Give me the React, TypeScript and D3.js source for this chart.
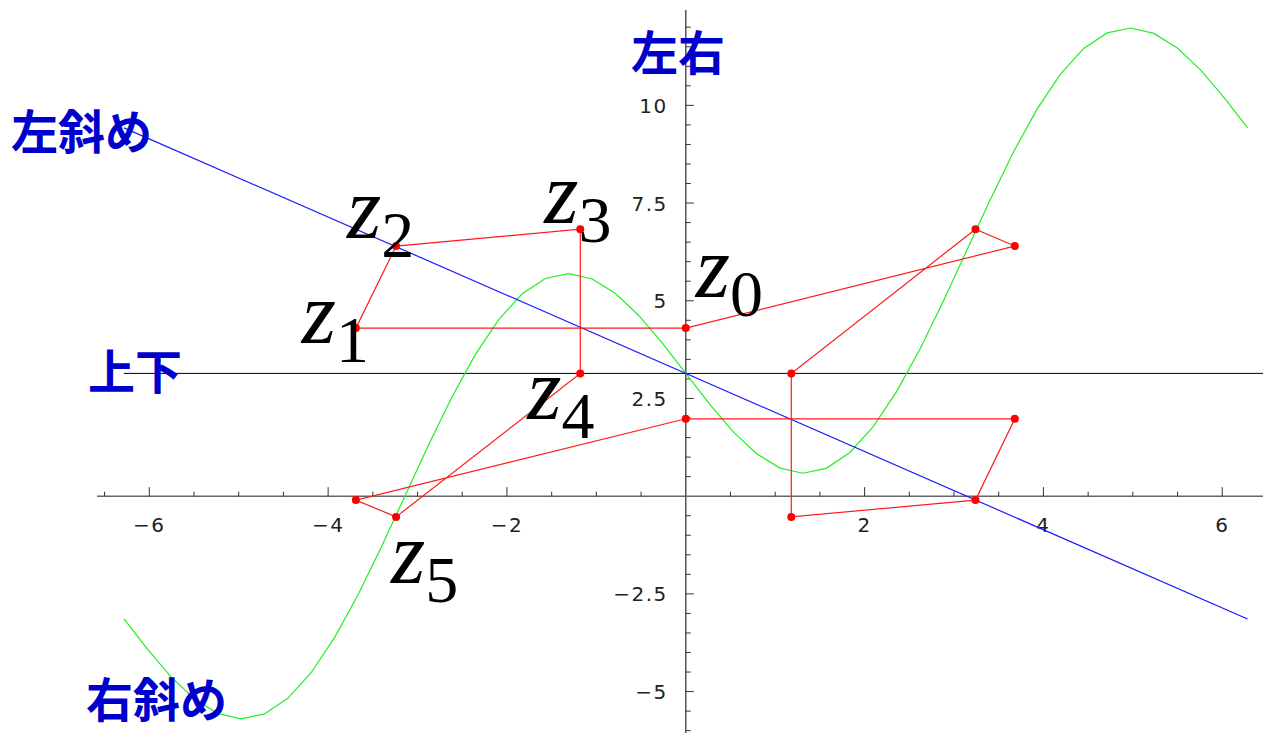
import React from "react";
import * as d3 from "d3";

// Plot window
const X_DOMAIN = [-6.585, 6.59];
const Y_DOMAIN = [-6.06, 12.44];

// Green curve samples
const greenX = [
  -6.2832, -6.0214, -5.7596, -5.4978, -5.236, -4.9742, -4.7124, -4.4506, -4.1888, -3.927,
  -3.6652, -3.4034, -3.1416, -2.8798, -2.618, -2.3562, -2.0944, -1.8326, -1.5708, -1.309,
  -1.0472, -0.7854, -0.5236, -0.2618, 0, 0.2618, 0.5236, 0.7854, 1.0472, 1.309,
  1.5708, 1.8326, 2.0944, 2.3562, 2.618, 2.8798, 3.1416, 3.4034, 3.6652, 3.927,
  4.1888, 4.4506, 4.7124, 4.9742, 5.236, 5.4978, 5.7596, 6.0214, 6.2832,
];
const greenY = [
  -3.142, -3.915, -4.618, -5.185, -5.558, -5.696, -5.571, -5.173, -4.511, -3.614,
  -2.524, -1.297, 0, 1.297, 2.524, 3.614, 4.511, 5.173, 5.571, 5.696,
  5.558, 5.185, 4.618, 3.915, 3.142, 2.368, 1.665, 1.099, 0.725, 0.587,
  0.712, 1.111, 1.772, 2.669, 3.76, 4.986, 6.283, 7.58, 8.807, 9.897,
  10.794, 11.456, 11.854, 11.979, 11.842, 11.468, 10.901, 10.198, 9.425,
];

// Blue diagonal
const blueX = [-6.2832, 6.2832];
const blueY = [9.425, -3.142];

// Horizontal reference line
const hLineX = [-6.2832, 6.59];
const hLineY = [3.1416, 3.1416];

// Red closed path through the points
const redX = [0, -3.69, -3.24, -1.18, -1.18, -3.24, -3.69, 0, 3.68, 3.24, 1.18, 1.18, 3.24, 3.68, 0];
const redY = [4.3, 4.3, 6.4, 6.83, 3.14, -0.53, -0.1, 1.98, 1.98, -0.1, -0.53, 3.14, 6.83, 6.4, 4.3];

// Point labels z0..z5 (index into the red path)
const zNames = ["0", "1", "2", "3", "4", "5"];
const zOffsets: [number, number][] = [
  [10, -31],
  [-54, 15],
  [-49, -8],
  [-36, -6],
  [-53, 46],
  [-5, 66],
];

// Tick values
const xMajorTicks = [-6, -4, -2, 2, 4, 6];
const xTickLabels = ["\u22126", "\u22124", "\u22122", "2", "4", "6"];
const yMajorTicks = [-5, -2.5, 2.5, 5, 7.5, 10];
const yTickLabels = ["\u22125", "\u22122.5", "2.5", "5", "7.5", "10"];

// Direction captions
const captions = ["左斜め", "左右", "上下", "右斜め"];
const captionPos: [number, number][] = [
  [11, 149],
  [631, 70],
  [88, 389],
  [86, 717],
];

const W = 1263;
const H = 733;

export default function App() {
  const x = d3.scaleLinear().domain(X_DOMAIN).range([97, 1275]);
  const y = d3.scaleLinear().domain(Y_DOMAIN).range([733, 10]);

  const line = d3
    .line<[number, number]>()
    .x((d) => x(d[0]))
    .y((d) => y(d[1]));

  const zip = (a: number[], b: number[]) => a.map((v, i) => [v, b[i]] as [number, number]);

  const x0 = x(0);
  const y0 = y(0);

  const xMinor = d3.range(-6.5, 6.51, 0.5).filter((v) => Math.abs(v % 2) > 1e-6 && Math.abs(v) > 1e-6);
  const yMinor = d3.range(-6, 12.01, 0.5).filter((v) => Math.abs(v % 2.5) > 1e-6 && Math.abs(v) > 1e-6);

  const tickFont = { fontFamily: "DejaVu Sans", fontSize: 20, letterSpacing: 1.5 };

  return (
    <svg
      width={W}
      height={H}
      style={{ position: "absolute", left: 0, top: 0, background: "#fff" }}
    >
      <rect width={W} height={H} fill="#fff" />

      {/* x axis */}
      <line x1={x(X_DOMAIN[0])} x2={x(X_DOMAIN[1])} y1={y0} y2={y0} stroke="#666" strokeWidth={1.5} />
      {xMinor.map((v) => (
        <line key={"xm" + v} x1={x(v)} x2={x(v)} y1={y0} y2={y0 - 4.5} stroke="#333" strokeWidth={1} />
      ))}
      {xMajorTicks.map((v, i) => (
        <g key={"xM" + v}>
          <line x1={x(v)} x2={x(v)} y1={y0} y2={y0 - 9} stroke="#333" strokeWidth={1} />
          <text x={x(v)} y={y0 + 36} textAnchor="middle" fill="#222" {...tickFont}>
            {xTickLabels[i]}
          </text>
        </g>
      ))}

      {/* y axis */}
      <line x1={x0} x2={x0} y1={y(Y_DOMAIN[1])} y2={y(Y_DOMAIN[0])} stroke="#555" strokeWidth={1.5} />
      {yMinor.map((v) => (
        <line key={"ym" + v} x1={x0} x2={x0 + 5} y1={y(v)} y2={y(v)} stroke="#333" strokeWidth={1} />
      ))}
      {yMajorTicks.map((v, i) => (
        <g key={"yM" + v}>
          <line x1={x0} x2={x0 + 8} y1={y(v)} y2={y(v)} stroke="#333" strokeWidth={1} />
          <text x={x0 - 18} y={y(v) + 7.5} textAnchor="end" fill="#222" {...tickFont}>
            {yTickLabels[i]}
          </text>
        </g>
      ))}

      {/* horizontal line */}
      <path d={line(zip(hLineX, hLineY)) || ""} fill="none" stroke="#000" strokeWidth={1} />

      {/* green curve */}
      <path d={line(zip(greenX, greenY)) || ""} fill="none" stroke="#22ee22" strokeWidth={1.2} />

      {/* blue diagonal */}
      <path d={line(zip(blueX, blueY)) || ""} fill="none" stroke="#1a1aff" strokeWidth={1.2} />

      {/* red path and points */}
      <path d={line(zip(redX, redY)) || ""} fill="none" stroke="#ff1a1a" strokeWidth={1.2} />
      {redX.slice(0, -1).map((v, i) => (
        <circle key={"p" + i} cx={x(v)} cy={y(redY[i])} r={4} fill="#ff0000" />
      ))}

      {/* z labels */}
      {zNames.map((n, i) => (
        <text
          key={"z" + n}
          x={x(redX[i]) + zOffsets[i][0]}
          y={y(redY[i]) + zOffsets[i][1]}
          fontFamily="'Liberation Serif', 'Times New Roman', serif"
          fill="#000"
        >
          <tspan fontStyle="italic" fontSize={88}>z</tspan>
          <tspan fontSize={66} dy={19}>{n}</tspan>
        </text>
      ))}

      {/* direction captions */}
      {captions.map((c, i) => (
        <text
          key={c}
          x={captionPos[i][0]}
          y={captionPos[i][1]}
          fontFamily="'Noto Sans CJK JP', sans-serif"
          fontWeight="bold"
          fontSize={47}
          fill="#0000cc"
        >
          {c}
        </text>
      ))}
    </svg>
  );
}
